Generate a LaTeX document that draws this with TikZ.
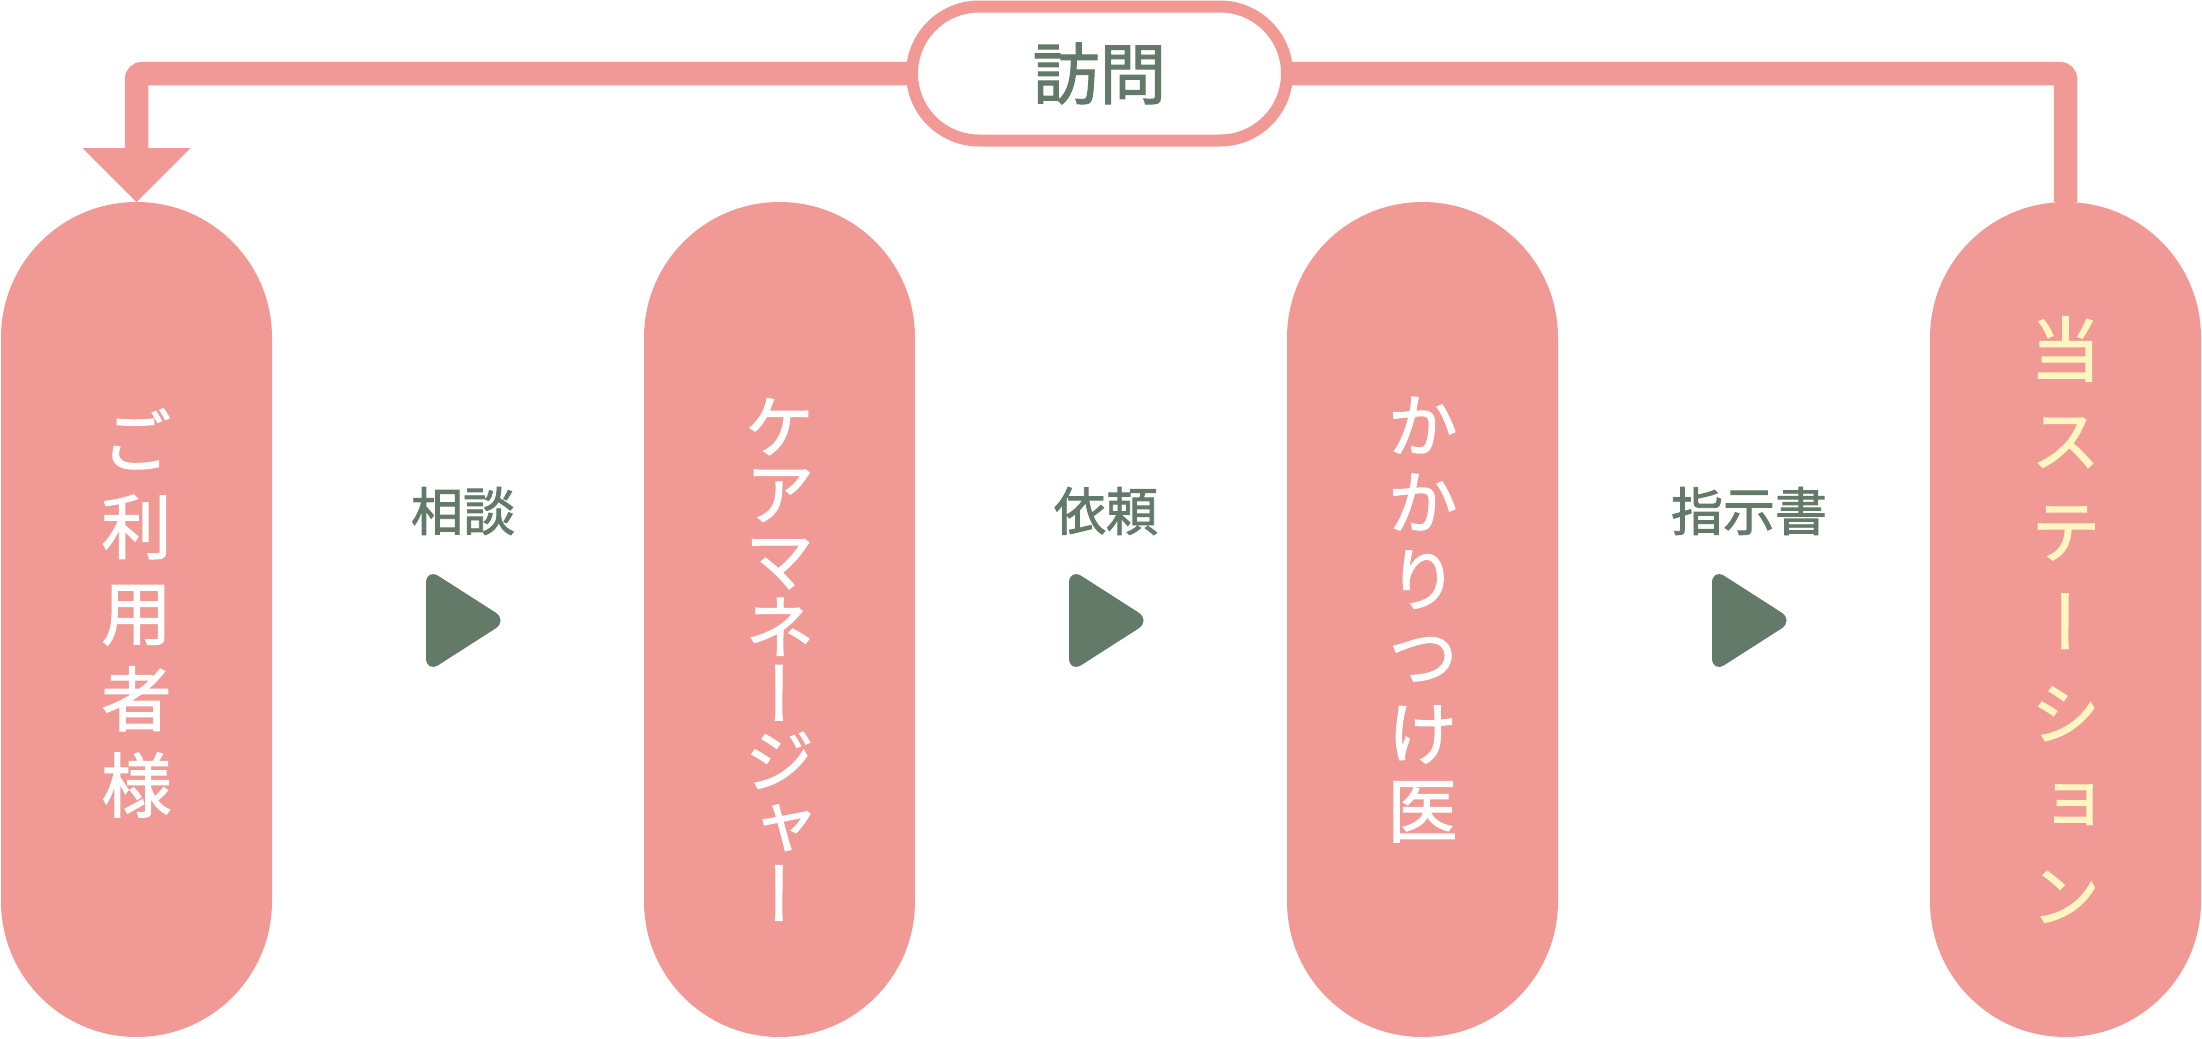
\documentclass[tikz,border=0pt]{standalone}
\usepackage{fontspec}
\newfontfamily\jp[FakeBold=1.6]{Noto Sans CJK JP}
\newfontfamily\jpv[RawFeature=+vert,FakeBold=1.6]{Noto Sans CJK JP}
\usetikzlibrary{positioning,arrows.meta}
\definecolor{pinkbg}{HTML}{F19A95}
\definecolor{leaf}{HTML}{637A69}
\definecolor{cream}{HTML}{FFF6C1}

\tikzset{
    pill/.style={fill=pinkbg, rounded corners=1.355cm, minimum width=2.71cm, minimum height=8.35cm, inner sep=0pt, outer sep=0pt},
    vtext/.style={align=center, inner sep=0pt, text=white, font=\jpv\fontsize{20pt}{#1}\selectfont},
    gaplabel/.style={text=leaf, inner sep=0pt, font=\jp\fontsize{14.8pt}{16pt}\selectfont},
    tri/.style={fill=leaf, rounded corners=0.15cm},
    flow/.style={draw=pinkbg, line width=0.235cm, rounded corners=0.06cm, -{Triangle[width=1.08cm,length=0.54cm,line width=0pt]}},
    visit/.style={draw=pinkbg, fill=white, line width=0.12cm, rounded corners=0.67cm, minimum width=3.75cm, minimum height=1.34cm, text=leaf, font=\jp\fontsize{19pt}{19pt}\selectfont}
}

\begin{document}
\begin{tikzpicture}[>=Stealth]
    \useasboundingbox (0,0) rectangle (22.02,10.38);
    % pills
    \node[pill] (p1) at (1.365,4.185) {};
    \node[pill, right=3.72cm of p1] (p2) {};
    \node[pill, right=3.72cm of p2] (p3) {};
    \node[pill, right=3.72cm of p3] (p4) {};
    \node[vtext=24.5pt] (t1) at ([yshift=0.065cm]p1.center) {ご\\利\\用\\者\\様};
    \node[vtext=19pt] (t2) at ([yshift=-0.4cm]p2.center) {ケ\\ア\\マ\\ネ\\ー\\ジ\\ャ\\ー};
    \node[vtext=21.9pt] (t3) at (p3.center) {か\\か\\り\\つ\\け\\医};
    \node[vtext=25.9pt, text=cream] (t4) at (p4.center) {当\\ス\\テ\\ー\\シ\\ョ\\ン};
    % steps between
    \foreach \x/\t [count=\i] in {4.63/相談,11.06/依頼,17.49/指示書}{
        \node[gaplabel] (l\i) at (\x,5.27) {\t};
        \fill[tri] (\x-0.37,4.70)--(\x+0.45,4.175)--(\x-0.37,3.65)--cycle;
    }
    % back to the start
    \draw[flow] (p4.north) -- ++(0,1.285) -| (p1.north);
    \node[visit] (v) at (10.995,9.645) {訪問};
\end{tikzpicture}
\end{document}
